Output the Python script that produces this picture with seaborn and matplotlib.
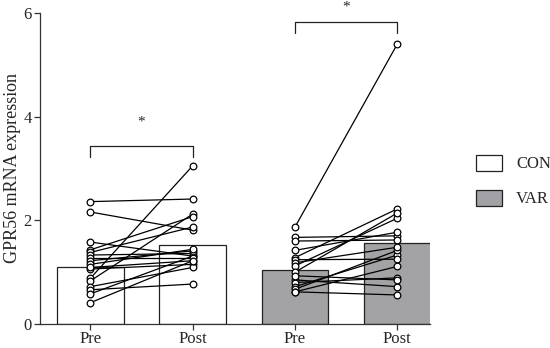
import numpy as np
import pandas as pd
import matplotlib
matplotlib.use("Agg")
import matplotlib.pyplot as plt
import seaborn as sns
from matplotlib.patches import Patch

# ---- data ----
groups = ["CON", "VAR"]
times = ["Pre", "Post"]
conditions = ["CON Pre", "CON Post", "VAR Pre", "VAR Post"]
bar_means = [1.10, 1.53, 1.05, 1.56]

con_pre = [2.36, 2.16, 1.58, 1.43, 1.38, 1.33, 1.27, 1.22, 1.15, 1.09, 1.06, 0.88, 0.83, 0.72, 0.66, 0.58, 0.41]
con_post = [2.41, 1.81, 1.31, 2.07, 1.87, 1.36, 1.27, 1.41, 1.44, 1.22, 1.15, 3.05, 2.12, 1.09, 0.77, 1.31, 1.22]
var_pre = [1.87, 1.67, 1.60, 1.42, 1.28, 1.24, 1.18, 1.12, 1.00, 0.93, 0.85, 0.80, 0.72, 0.67, 0.62, 0.62]
var_post = [5.40, 1.70, 1.62, 1.77, 2.22, 1.25, 1.48, 2.04, 2.14, 0.85, 0.72, 0.89, 1.33, 1.42, 0.56, 1.11]

# significance brackets: (left condition, right condition, bracket height, tick bottom, star height)
brackets = [("CON Pre", "CON Post", 3.44, 3.22, 3.90),
            ("VAR Pre", "VAR Post", 5.83, 5.62, 6.12)]

colors = {"CON": "#ffffff", "VAR": "#a2a2a6"}

# ---- frames ----
bars = pd.DataFrame({"condition": conditions, "value": bar_means,
                     "group": ["CON", "CON", "VAR", "VAR"]})

rows = []
for g, pre, post in [("CON", con_pre, con_post), ("VAR", var_pre, var_post)]:
    for i, (a, b) in enumerate(zip(pre, post)):
        rows.append({"subject": f"{g}{i}", "pos": conditions.index(f"{g} Pre"), "value": a})
        rows.append({"subject": f"{g}{i}", "pos": conditions.index(f"{g} Post"), "value": b})
pts = pd.DataFrame(rows)

# ---- plot ----
sns.set_style("ticks")
plt.rcParams["font.family"] = ["Liberation Serif", "DejaVu Serif"]

fig = plt.figure(figsize=(5.5, 3.48), dpi=100)
ax = fig.add_axes([0.073, 0.069, 0.709, 0.894])

sns.barplot(data=bars, x="condition", y="value", hue="group", order=conditions,
            palette=colors, dodge=False, width=0.65, edgecolor="#222222",
            linewidth=0.9, ax=ax, legend=False)

sns.lineplot(data=pts, x="pos", y="value", units="subject", estimator=None,
             color="black", linewidth=0.9, marker="o", markersize=4.8,
             markerfacecolor="white", markeredgecolor="black",
             markeredgewidth=0.9, ax=ax, legend=False)

for left, right, h, lo, sh in brackets:
    x1, x2 = conditions.index(left), conditions.index(right)
    ax.plot([x1, x1, x2, x2], [lo, h, h, lo], color="#222222", lw=0.9, clip_on=False)
    ax.text((x1 + x2) / 2, sh, "*", ha="center", va="center", fontsize=11, clip_on=False)

ax.set_xlim(-0.49, 3.32)
ax.set_ylim(0, 6)
ax.set_yticks([0, 2, 4, 6])
ax.set_xticks(range(len(conditions)))
ax.set_xticklabels(["Pre", "Post", "Pre", "Post"])
ax.set_xlabel("")
ax.set_ylabel("GPR56 mRNA expression", fontsize=13, labelpad=2)
ax.tick_params(axis="both", labelsize=12, length=4, width=0.9, color="#333333")
ax.tick_params(axis="x", pad=1)
ax.tick_params(axis="y", pad=2)
for s in ["left", "bottom"]:
    ax.spines[s].set_color("#333333")
    ax.spines[s].set_linewidth(0.9)
sns.despine(ax=ax)

handles = [Patch(facecolor=colors[g], edgecolor="#222222", linewidth=0.9) for g in groups]
fig.legend(handles, groups, loc="center left", bbox_to_anchor=(0.838, 0.48),
           frameon=False, fontsize=12, handlelength=1.55, handleheight=1.1,
           labelspacing=1.05, handletextpad=0.85)

fig.savefig("out.png", dpi=100)
